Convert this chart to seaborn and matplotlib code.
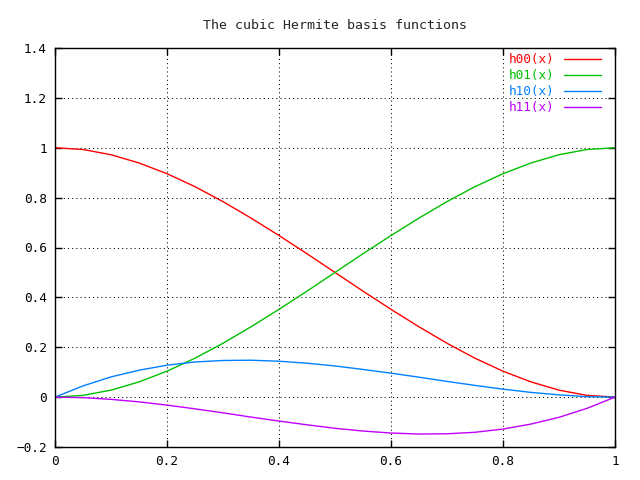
import matplotlib
matplotlib.use("Agg")
import matplotlib.pyplot as plt
import seaborn as sns
from matplotlib.ticker import FuncFormatter

# values
x = [0.0, 0.05, 0.1, 0.15, 0.2, 0.25, 0.3, 0.35, 0.4, 0.45, 0.5,
     0.55, 0.6, 0.65, 0.7, 0.75, 0.8, 0.85, 0.9, 0.95, 1.0]
h00 = [1.0, 0.993, 0.972, 0.939, 0.896, 0.844, 0.784, 0.718, 0.648, 0.575, 0.5,
       0.425, 0.352, 0.282, 0.216, 0.156, 0.104, 0.061, 0.028, 0.007, 0.0]
h01 = [0.0, 0.007, 0.028, 0.061, 0.104, 0.156, 0.216, 0.282, 0.352, 0.425, 0.5,
       0.575, 0.648, 0.718, 0.784, 0.844, 0.896, 0.939, 0.972, 0.993, 1.0]
h10 = [0.0, 0.045, 0.081, 0.108, 0.128, 0.141, 0.147, 0.148, 0.144, 0.136, 0.125,
       0.111, 0.096, 0.080, 0.063, 0.047, 0.032, 0.019, 0.009, 0.002, 0.0]
h11 = [0.0, -0.002, -0.009, -0.019, -0.032, -0.047, -0.063, -0.080, -0.096, -0.111, -0.125,
       -0.136, -0.144, -0.148, -0.147, -0.141, -0.128, -0.108, -0.081, -0.045, 0.0]

series = [("h00(x)", h00, "#ff0000"),
          ("h01(x)", h01, "#00c000"),
          ("h10(x)", h10, "#0080ff"),
          ("h11(x)", h11, "#c000ff")]

sns.set_style("ticks")
plt.rcParams["font.family"] = ["DejaVu Sans Mono"]

fig = plt.figure(figsize=(6.4, 4.8), dpi=100)
ax = fig.add_axes([55 / 640, 1 - 447 / 480, 560 / 640, 399 / 480])

for name, vals, col in series:
    sns.lineplot(x=x, y=vals, ax=ax, color=col, linewidth=1, label=name)

ax.set_xlim(0, 1)
ax.set_ylim(-0.2, 1.4)
ax.set_xticks([0, 0.2, 0.4, 0.6, 0.8, 1.0])
ax.set_yticks([-0.2, 0, 0.2, 0.4, 0.6, 0.8, 1.0, 1.2, 1.4])
fmt = FuncFormatter(lambda v, p: ("%g" % round(v, 2)).replace("-", "\u2212"))
ax.xaxis.set_major_formatter(fmt)
ax.yaxis.set_major_formatter(fmt)
ax.tick_params(direction="in", top=True, right=True, length=5, width=1,
               labelsize=9.2, colors="black", pad=6)
ax.grid(True, color="black", linestyle=(0, (1, 3)), linewidth=0.75)
for s in ax.spines.values():
    s.set_linewidth(1)
    s.set_color("black")

ax.set_title("The cubic Hermite basis functions", fontsize=9.5, pad=14)

leg = ax.legend(loc="upper right", bbox_to_anchor=(601 / 640, 1 - 53 / 480),
                bbox_transform=fig.transFigure, frameon=False, markerfirst=False,
                labelcolor="linecolor", fontsize=9.2, handlelength=2.9,
                borderaxespad=0, borderpad=0, labelspacing=0.24,
                handletextpad=0.75)

fig.savefig("out.png", dpi=100)
